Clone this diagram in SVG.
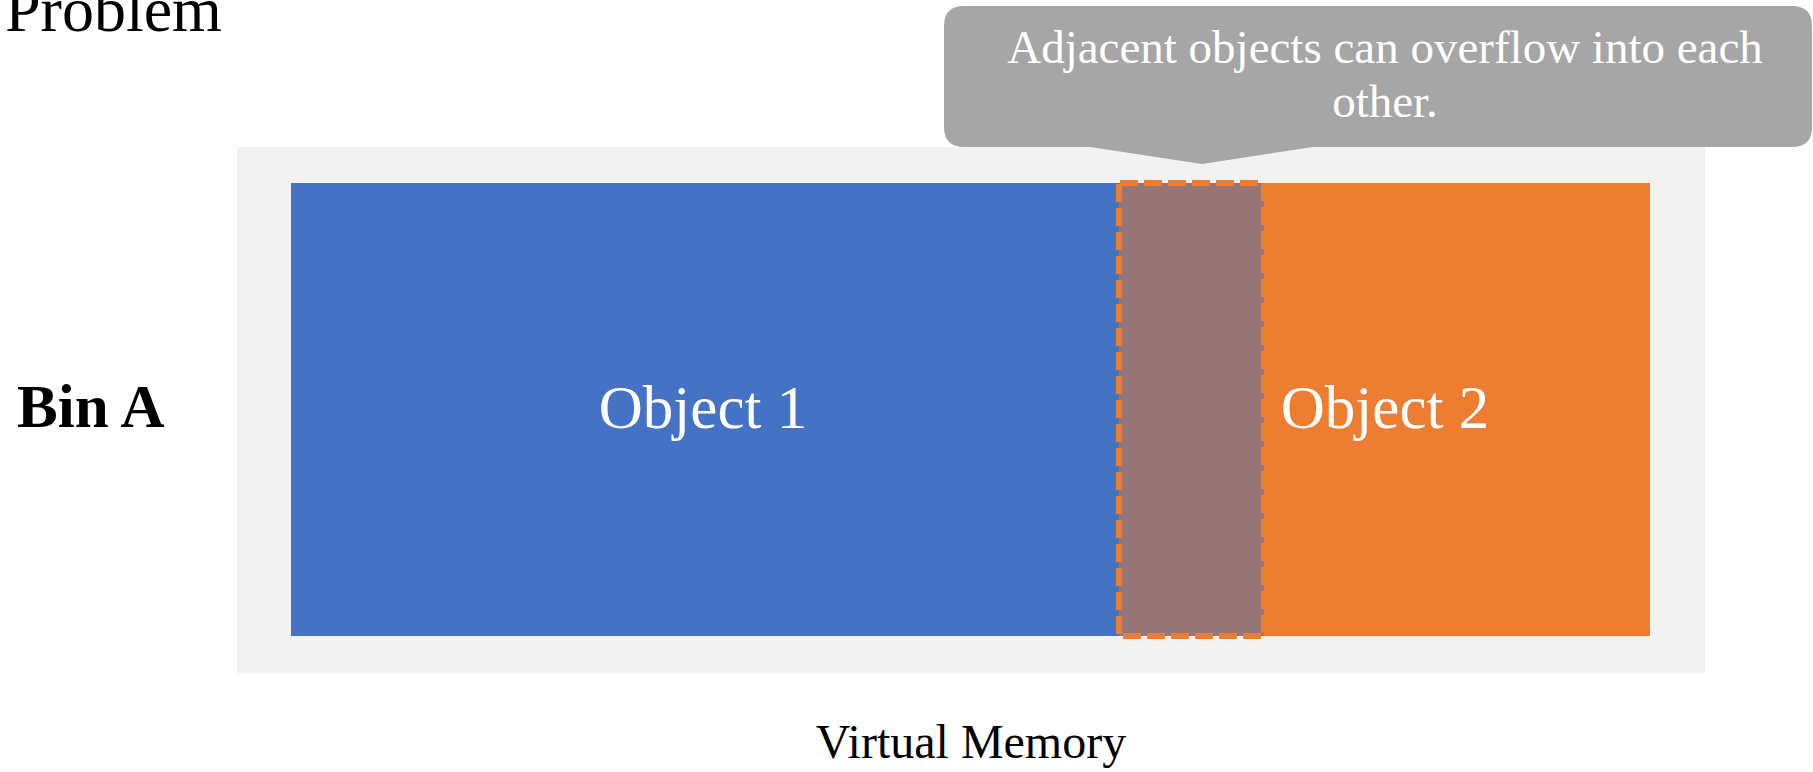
<svg xmlns="http://www.w3.org/2000/svg" width="1813" height="772" viewBox="0 0 1813 772">
  <style>
    .serif { font-family: "Liberation Serif", "Times New Roman", serif; }
    .label { fill: #000000; }
    .obj { fill: #FFFFFF; font-size: 61px; text-anchor: middle; }
    .note { fill: #FFFFFF; font-size: 47px; text-anchor: middle; }
  </style>
  <rect width="1813" height="772" fill="#FFFFFF"/>

  <!-- Title -->
  <text class="serif label" x="5" y="31" font-size="64">Problem</text>

  <!-- Row label -->
  <text class="serif label" x="17" y="427" font-size="61" font-weight="bold">Bin A</text>

  <!-- Bin area -->
  <g id="bin-a">
    <rect x="237" y="147" width="1468" height="526" fill="#F2F2F2"/>
  </g>

  <!-- Object 1 -->
  <g id="object-1">
    <rect x="291" y="183" width="829" height="453" fill="#4472C4"/>
    <text class="serif obj" x="703" y="428">Object 1</text>
  </g>

  <!-- Object 2 -->
  <g id="object-2">
    <rect x="1119" y="183" width="531" height="453" fill="#ED7D31"/>
    <text class="serif obj" x="1385" y="428">Object 2</text>
  </g>

  <!-- Overlapping region -->
  <g id="overlap">
    <rect x="1119" y="183" width="145" height="453" fill="#977577"/>
    <rect x="1119" y="183" width="145" height="453" fill="none" stroke="#ED7D31" stroke-width="6" stroke-dasharray="18 6" stroke-dashoffset="-1"/>
  </g>

  <!-- Callout -->
  <g id="callout">
    <path d="M964 6 H1792 Q1812 6 1812 26 V127 Q1812 147 1792 147 H1313 L1202 164 L1090 147 H964 Q944 147 944 127 V26 Q944 6 964 6 Z" fill="#A6A6A6"/>
    <text class="serif note" x="1385" y="63">Adjacent objects can overflow into each</text>
    <text class="serif note" x="1385" y="117">other.</text>
  </g>

  <!-- Axis caption -->
  <text class="serif label" x="971" y="758" font-size="48" text-anchor="middle">Virtual Memory</text>

  <g id="connectors"/>
</svg>
